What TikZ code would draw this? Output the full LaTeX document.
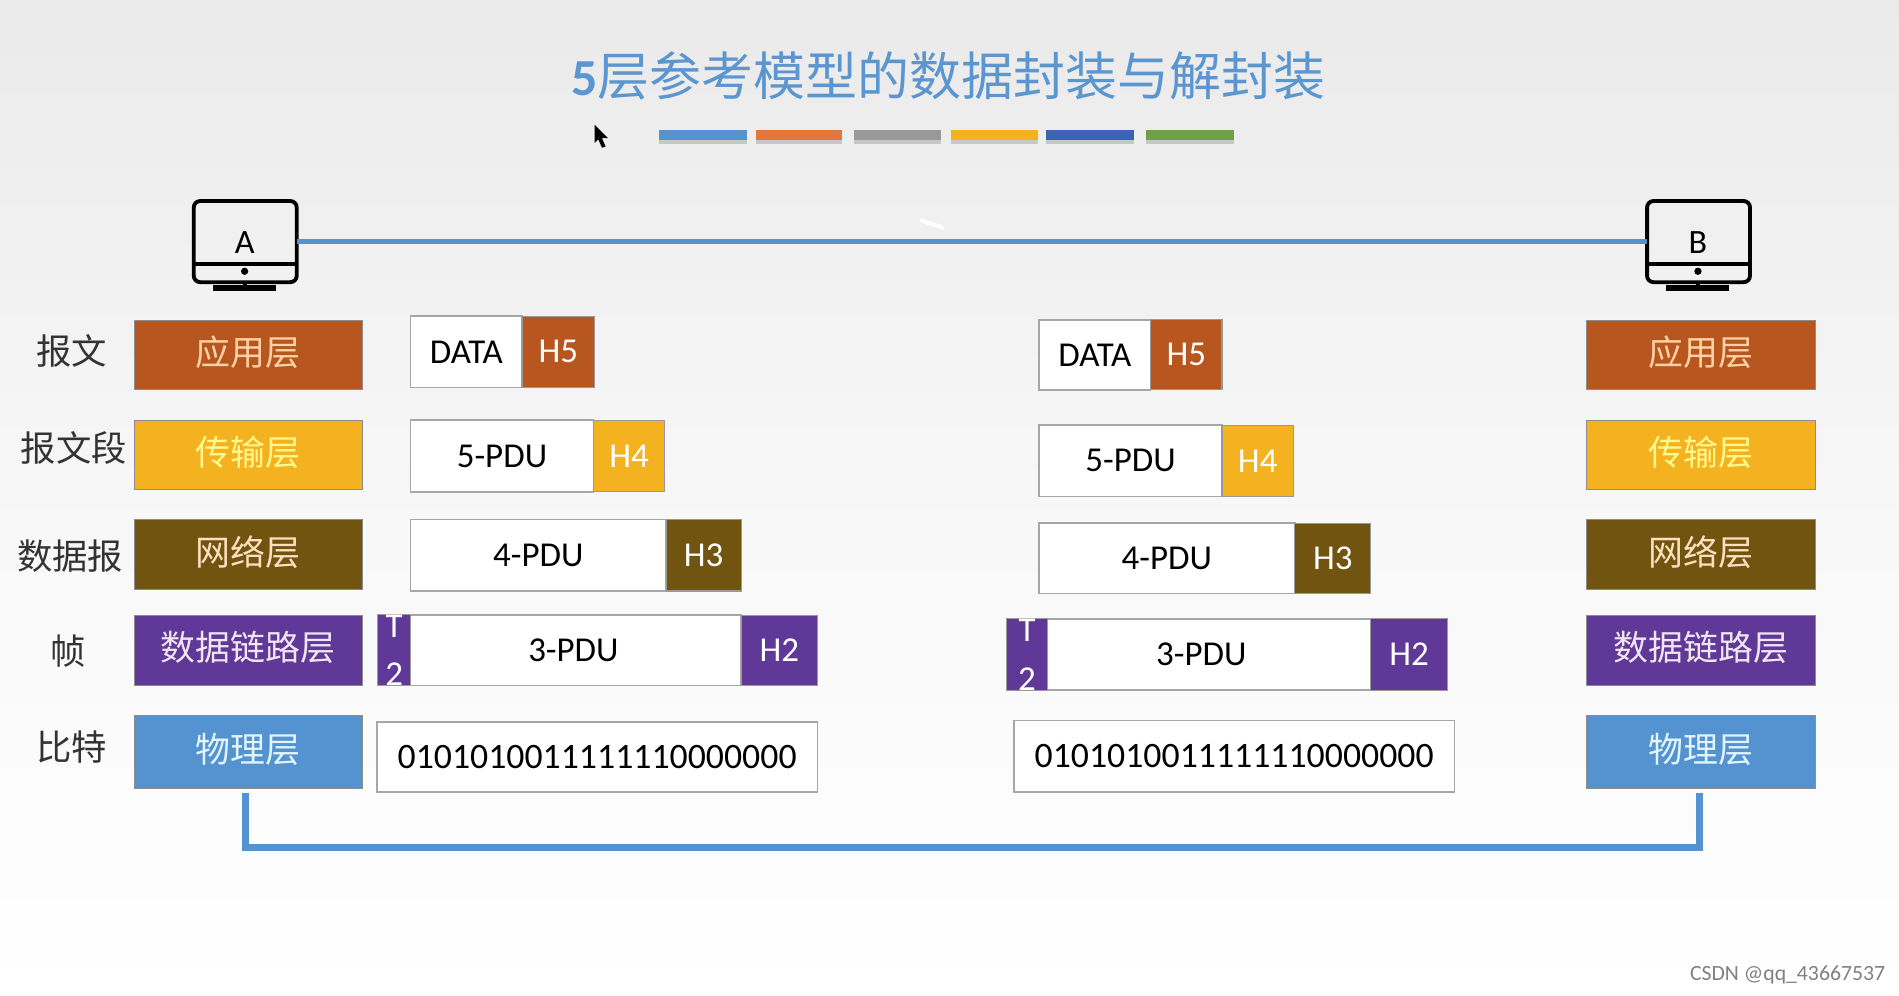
\documentclass[tikz,border=0pt]{standalone}
\usepackage{fontspec}
\setmainfont{Carlito}
\newfontfamily\cjk{Noto Sans CJK SC}
\usepackage{xcolor}
\usetikzlibrary{calc,positioning}
\definecolor{titlecolor}{RGB}{91,150,208}
\definecolor{appcolor}{RGB}{184,86,32}
\definecolor{transcolor}{RGB}{245,178,32}
\definecolor{netcolor}{RGB}{112,84,16}
\definecolor{linkcolor}{RGB}{96,56,152}
\definecolor{phycolor}{RGB}{84,146,208}
\definecolor{bgcolor}{RGB}{234,234,234}

\begin{document}
\begin{tikzpicture}[x=0.01cm,y=-0.01cm,font=\fontsize{8.2pt}{10pt}\selectfont]
  \tikzset{
    cell/.style n args={4}{minimum width={(#3-#1)*0.01cm},minimum height={(#4-#2)*0.01cm},
      at={({(#1+#3)/2},{(#2+#4)/2})},inner sep=0pt,outer sep=0pt},
    layerbox/.style={font=\fontsize{8.2pt}{10pt}\cjk,text depth=2pt,draw=black!45,line width=0.25pt},
    headbox/.style={text=white,draw=black!40,line width=0.25pt},
    pdubox/.style={fill=white,draw=black!35,line width=0.4pt,text=black},
    pdulabel/.style={font=\fontsize{8.3pt}{10pt}\cjk,text=black!80},
    wire/.style={draw=phycolor,line width=1.7pt},
    pcbox/.style={draw=black,line width=0.9pt,rounded corners=1.5pt,fill=none},
    barbox/.style={inner sep=0pt,outer sep=0pt},
    bitstext/.style={font=\fontsize{8.4pt}{10pt}\selectfont}
  }
  % ---------------- background
  \shade[top color=bgcolor,bottom color=white,middle color=black!3] (0,0) rectangle (1568,822);
  \useasboundingbox (0,0) rectangle (1568,822);
  % ---------------- title
  \node[font=\fontsize{12.2pt}{14pt}\cjk,text=titlecolor] (title) at (783,63) {{\rmfamily\bfseries 5}层参考模型的数据封装与解封装};
  \definecolor{barorange}{RGB}{226,120,60}
  \definecolor{barblue}{RGB}{60,100,180}
  \definecolor{bargreen}{RGB}{112,160,70}
  \foreach \k/\xa/\xb/\col in {1/544/617/phycolor,2/624/695/barorange,3/705/777/black!40,4/785/857/transcolor,5/864/936/barblue,6/946/1019/bargreen} {
    \fill[black!22] (\xa,113) rectangle (\xb,119);
    \node[barbox,fill=\col,cell={\xa}{107}{\xb}{116}] (bar\k) {};
  }
  % ---------------- mouse pointer and mark
  \fill[black] (491,103) -- (491,118) -- (494,115) -- (497,122) -- (500,121) -- (497,114) -- (502,114) -- cycle;
  \fill[white] (759,180) -- (778,186) -- (780,190) -- (761,184) -- cycle;
  % ---------------- hosts
  \foreach \nm/\xa/\x/\xb/\lab in {pcA/160/202/245/A,pcB/1360/1402/1445/B} {
    \node[pcbox,cell={\xa}{166}{\xb}{233}] (\nm) {};
    \node[font=\fontsize{8pt}{9pt}\selectfont] (\nm txt) at (\x,200) {\lab};
    \draw[line width=0.8pt] (\xa,218) -- (\xb,218);
    \fill (\x,224) circle (3);
    \draw[line width=0.9pt] (\x,233) -- (\x,238);
    \draw[line width=1.3pt] (\x-26,238) -- (\x+26,238);
  }
  \draw[wire,line width=1.1pt] (pcA.east) -- (pcB.west);
  % ---------------- layers
  \foreach \side/\xa/\xb in {L/111/299,R/1310/1499} {
    \foreach \nm/\ya/\yb/\col/\txtcol/\lab in {
      app/265/322/appcolor/orange!35!white/应用层,
      trans/347/404/transcolor/yellow!45!white/传输层,
      net/429/487/netcolor/orange!25!white/网络层,
      link/508/566/linkcolor/violet!10!white/数据链路层,
      phy/591/651/phycolor/cyan!12!white/物理层} {
      \node[layerbox,fill=\col,text=\txtcol,cell={\xa}{\ya}{\xb}{\yb}] (\nm\side) {\lab};
    }
  }
  % ---------------- names of the data units
  \foreach \nm/\x/\y/\lab in {msg/59/290/报文,seg/61/370/报文段,pkt/58/459/数据报,frm/56/538/帧,bit/59/617/比特}
    \node[pdulabel] (\nm) at (\x,\y) {\lab};
  % ---------------- sender
  \node[pdubox,cell={339}{261}{431}{320}] (dataA) {DATA};
  \node[headbox,fill=appcolor,cell={431}{261}{491}{320}] (hfiveA) {H5};
  \node[pdubox,cell={339}{347}{490}{406}] (fiveA) {5-PDU};
  \node[headbox,fill=transcolor,cell={490}{347}{549}{406}] (hfourA) {H4};
  \node[pdubox,cell={339}{429}{550}{488}] (fourA) {4-PDU};
  \node[headbox,fill=netcolor,cell={550}{429}{612}{488}] (hthreeA) {H3};
  \node[pdubox,cell={335}{508}{612}{566}] (threeA) {3-PDU};
  \node[headbox,fill=linkcolor,cell={612}{508}{675}{566}] (htwoA) {H2};
  \node[headbox,fill=linkcolor,cell={312}{508}{339}{566},align=center,font=\fontsize{8.2pt}{11.4pt}\selectfont] (ttwoA) {T\\2};
  \node[pdubox,bitstext,cell={311}{596}{675}{654}] (bitsA) {0101010011111110000000};
  % ---------------- receiver
  \node[pdubox,cell={858}{264}{950}{322}] (dataB) {DATA};
  \node[headbox,fill=appcolor,cell={950}{264}{1009}{322}] (hfiveB) {H5};
  \node[pdubox,cell={858}{351}{1009}{410}] (fiveB) {5-PDU};
  \node[headbox,fill=transcolor,cell={1009}{351}{1068}{410}] (hfourB) {H4};
  \node[pdubox,cell={858}{432}{1069}{490}] (fourB) {4-PDU};
  \node[headbox,fill=netcolor,cell={1069}{432}{1132}{490}] (hthreeB) {H3};
  \node[pdubox,cell={852}{511}{1132}{570}] (threeB) {3-PDU};
  \node[headbox,fill=linkcolor,cell={1132}{511}{1195}{570}] (htwoB) {H2};
  \node[headbox,fill=linkcolor,cell={831}{511}{865}{570},align=center,font=\fontsize{8.2pt}{11.4pt}\selectfont] (ttwoB) {T\\2};
  \node[pdubox,bitstext,cell={837}{595}{1201}{654}] (bitsB) {0101010011111110000000};
  % ---------------- medium
  \coordinate (busL) at (203,655);
  \coordinate (busR) at (1403,655);
  \draw[wire,line cap=butt] (busL) -- (203,700) -- (1403,700) -- (busR);
  % ---------------- watermark
  \node[font=\fontsize{5.1pt}{7pt}\selectfont,text=black!50] (mark) at (1476,805) {CSDN @qq\_43667537};
\end{tikzpicture}
\end{document}
